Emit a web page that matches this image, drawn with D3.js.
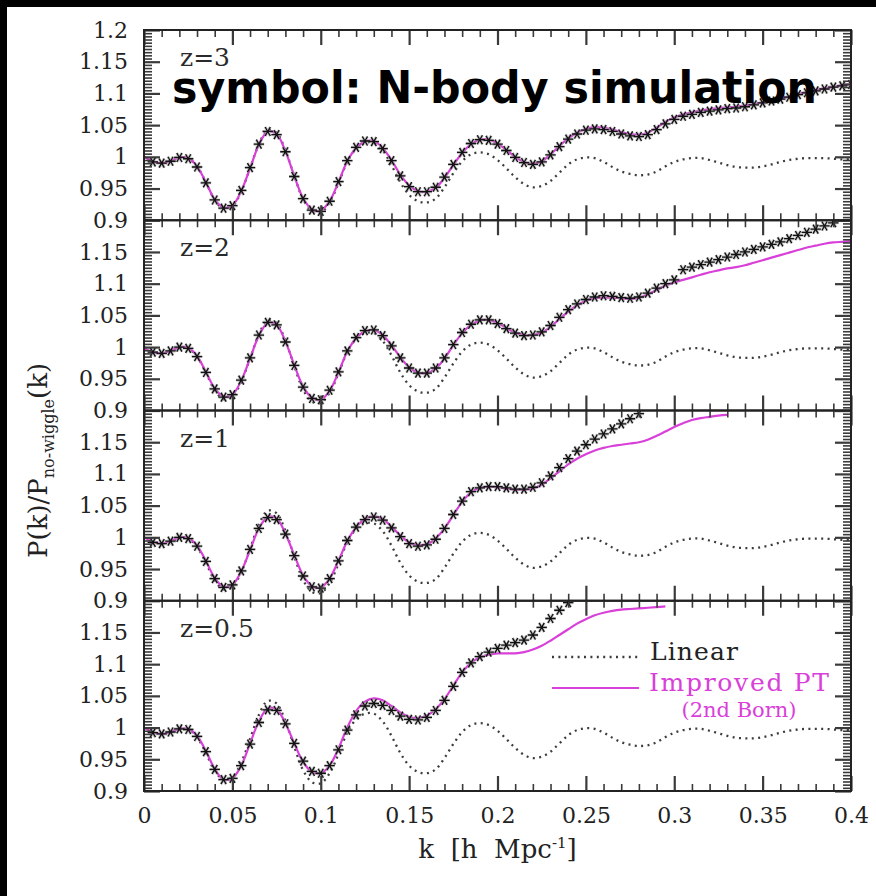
<!DOCTYPE html>
<html><head><meta charset="utf-8">
<script src="https://cdn.jsdelivr.net/npm/d3@7"></script>
<style>
html,body{margin:0;padding:0;background:#fff;}
svg{display:block;}
</style></head>
<body>
<svg id="chart" width="876" height="896"></svg>
<script>
// ---------------- DATA ----------------
const panelLabels = ["z=3", "z=2", "z=1", "z=0.5"];
const xTickValues = [0, 0.05, 0.1, 0.15, 0.2, 0.25, 0.3, 0.35, 0.4];
const xTickLabels = ["0", "0.05", "0.1", "0.15", "0.2", "0.25", "0.3", "0.35", "0.4"];
const yTickValues = [0.9, 0.95, 1, 1.05, 1.1, 1.15, 1.2];
const yTickLabels = ["0.9", "0.95", "1", "1.05", "1.1", "1.15", "1.2"];

// k grid of the theory curves
const kLine = [0,0.005,0.01,0.015,0.02,0.025,0.03,0.035,0.04,0.045,0.05,0.055,0.06,0.065,0.07,0.075,0.08,0.085,0.09,0.095,
0.1,0.105,0.11,0.115,0.12,0.125,0.13,0.135,0.14,0.145,0.15,0.155,0.16,0.165,0.17,0.175,0.18,0.185,0.19,0.195,
0.2,0.205,0.21,0.215,0.22,0.225,0.23,0.235,0.24,0.245,0.25,0.255,0.26,0.265,0.27,0.275,0.28,0.285,0.29,0.295,
0.3,0.305,0.31,0.315,0.32,0.325,0.33,0.335,0.34,0.345,0.35,0.355,0.36,0.365,0.37,0.375,0.38,0.385,0.39,0.395,0.4];

// Linear theory (same in every panel)
const linear = [1.000,0.993,0.990,0.993,0.999,0.998,0.985,0.960,0.932,0.918,0.922,0.945,0.982,1.020,1.042,1.038,1.010,0.970,0.933,0.914,
0.912,0.928,0.958,0.992,1.013,1.022,1.022,1.010,0.987,0.960,0.940,0.930,0.928,0.934,0.952,0.974,0.993,1.004,1.007,1.004,
0.995,0.982,0.968,0.957,0.952,0.954,0.962,0.975,0.988,0.996,0.999,0.998,0.992,0.984,0.977,0.973,0.971,0.972,0.977,0.985,
0.992,0.996,0.998,0.998,0.995,0.991,0.987,0.984,0.983,0.983,0.985,0.988,0.992,0.995,0.997,0.998,0.998,0.998,0.997,0.996,0.996];

// Improved PT (2nd Born), one array per panel
const ptZ3 = [1.000,0.993,0.990,0.993,0.999,0.998,0.985,0.960,0.933,0.920,0.923,0.946,0.982,1.019,1.040,1.036,1.009,0.970,0.935,0.917,
0.915,0.930,0.960,0.993,1.014,1.024,1.025,1.014,0.995,0.972,0.955,0.946,0.945,0.951,0.967,0.987,1.006,1.020,1.027,1.027,
1.021,1.011,1.000,0.992,0.989,0.993,1.004,1.017,1.029,1.038,1.044,1.047,1.046,1.043,1.039,1.036,1.035,1.038,1.046,1.055,
1.062,1.067,1.070,1.073,1.075,1.077,1.078,1.079,1.081,1.083,1.086,1.089,1.092,1.095,1.099,1.102,1.105,1.108,1.110,1.113,1.115];
const ptZ2 = [0.998,0.992,0.990,0.994,1.000,0.999,0.986,0.961,0.935,0.922,0.925,0.947,0.982,1.018,1.038,1.035,1.009,0.972,0.938,0.920,
0.917,0.931,0.960,0.993,1.014,1.025,1.027,1.019,1.003,0.984,0.968,0.960,0.959,0.966,0.982,1.003,1.022,1.035,1.042,1.043,
1.038,1.030,1.023,1.019,1.019,1.023,1.032,1.044,1.056,1.066,1.073,1.077,1.078,1.078,1.077,1.076,1.078,1.083,1.090,1.097,
1.102,1.106,1.110,1.114,1.118,1.121,1.124,1.126,1.129,1.133,1.137,1.141,1.145,1.149,1.153,1.157,1.160,1.163,1.165,1.166,1.167];
const ptZ1 = [1.000,0.993,0.990,0.994,1.000,0.999,0.987,0.963,0.936,0.922,0.925,0.946,0.980,1.014,1.032,1.030,1.006,0.972,0.940,0.923,
0.921,0.935,0.963,0.994,1.016,1.029,1.033,1.029,1.017,1.003,0.992,0.988,0.989,0.998,1.014,1.035,1.056,1.071,1.078,1.080,
1.079,1.077,1.075,1.075,1.077,1.083,1.093,1.104,1.115,1.124,1.131,1.137,1.141,1.144,1.146,1.148,1.150,1.154,1.160,1.167,
1.174,1.180,1.185,1.188,1.190,1.192,1.193];
const ptZ05 = [1.000,0.993,0.990,0.993,0.998,0.998,0.987,0.963,0.935,0.918,0.920,0.940,0.975,1.010,1.030,1.029,1.007,0.975,0.946,0.930,
0.928,0.940,0.967,1.000,1.026,1.041,1.046,1.043,1.034,1.024,1.017,1.015,1.019,1.029,1.045,1.066,1.087,1.102,1.111,1.115,
1.117,1.117,1.117,1.119,1.123,1.129,1.137,1.146,1.155,1.164,1.171,1.177,1.181,1.184,1.186,1.187,1.188,1.189,1.190,1.191];

// N-body simulation points
const kSim = [0.005,0.01,0.015,0.02,0.025,0.03,0.035,0.04,0.045,0.05,0.055,0.06,0.065,0.07,0.075,0.08,0.085,0.09,0.095,
0.1,0.105,0.11,0.115,0.12,0.125,0.13,0.135,0.14,0.145,0.15,0.155,0.16,0.165,0.17,0.175,0.18,0.185,0.19,0.195,
0.2,0.205,0.21,0.215,0.22,0.225,0.23,0.235,0.24,0.245,0.25,0.255,0.26,0.265,0.27,0.275,0.28,0.285,0.29,0.295,
0.3,0.305,0.31,0.315,0.32,0.325,0.33,0.335,0.34,0.345,0.35,0.355,0.36,0.365,0.37,0.375,0.38,0.385,0.39,0.395,0.4];
const simZ3 = [0.992,0.990,0.993,0.999,0.997,0.984,0.959,0.932,0.919,0.923,0.947,0.983,1.020,1.040,1.035,1.008,0.969,0.934,0.916,
0.914,0.930,0.961,0.994,1.015,1.025,1.024,1.013,0.994,0.970,0.953,0.945,0.945,0.952,0.968,0.988,1.007,1.021,1.027,1.026,
1.020,1.010,0.999,0.991,0.988,0.992,1.003,1.016,1.028,1.036,1.042,1.044,1.043,1.040,1.036,1.033,1.032,1.035,1.043,1.052,
1.059,1.064,1.067,1.070,1.072,1.074,1.076,1.077,1.079,1.082,1.085,1.088,1.091,1.094,1.098,1.101,1.104,1.107,1.110,1.112,1.114];
const simZ2 = [0.992,0.990,0.994,1.000,0.998,0.985,0.960,0.934,0.921,0.925,0.948,0.983,1.019,1.039,1.035,1.008,0.971,0.937,0.919,
0.917,0.932,0.961,0.994,1.015,1.026,1.027,1.018,1.002,0.983,0.967,0.959,0.959,0.967,0.983,1.004,1.023,1.036,1.043,1.043,
1.037,1.029,1.022,1.018,1.019,1.024,1.034,1.047,1.059,1.068,1.075,1.079,1.081,1.080,1.078,1.077,1.079,1.085,1.093,1.100,
1.106,1.122,1.126,1.130,1.134,1.138,1.142,1.146,1.150,1.154,1.158,1.162,1.166,1.171,1.176,1.181,1.186,1.191,1.196];
const simZ1 = [0.992,0.990,0.994,1.000,0.998,0.986,0.962,0.935,0.921,0.925,0.947,0.981,1.014,1.031,1.028,1.005,0.971,0.939,0.922,
0.920,0.935,0.963,0.995,1.016,1.028,1.032,1.027,1.015,1.001,0.990,0.986,0.988,0.997,1.014,1.036,1.057,1.072,1.078,1.080,
1.080,1.078,1.076,1.076,1.079,1.086,1.097,1.110,1.124,1.136,1.146,1.155,1.163,1.171,1.179,1.187,1.195];
const simZ05 = [0.992,0.990,0.993,0.998,0.997,0.986,0.962,0.934,0.918,0.920,0.940,0.974,1.008,1.028,1.027,1.006,0.975,0.947,0.931,
0.928,0.940,0.965,0.996,1.020,1.034,1.038,1.035,1.027,1.018,1.013,1.012,1.016,1.027,1.043,1.065,1.087,1.102,1.112,1.119,
1.125,1.130,1.134,1.138,1.146,1.158,1.172,1.185,1.197];

const ptSeries = [ptZ3, ptZ2, ptZ1, ptZ05];
const simSeries = [simZ3, simZ2, simZ1, simZ05];

// ---------------- LAYOUT ----------------
const W = 876, H = 896;
const L = 144, R = 851, T = 30, B = 791;
const PH = (B - T) / 4;
const serif = "'DejaVu Serif', serif";
const magenta = "#d93fd9";
const frameCol = "#222";
const tickCol = "#3a3a3a";

const svg = d3.select("#chart");
svg.append("rect").attr("width", W).attr("height", H).attr("fill", "#fff");
svg.append("rect").attr("x", 0).attr("y", 0).attr("width", W).attr("height", 7).attr("fill", "#000");
svg.append("rect").attr("x", 0).attr("y", 0).attr("width", 7).attr("height", H).attr("fill", "#000");

const x = d3.scaleLinear().domain([0, 0.4]).range([L, R]);
const xMinor = d3.range(0.01, 0.4, 0.01).filter(v => Math.abs(v / 0.05 - Math.round(v / 0.05)) > 1e-6);
const yMinor = d3.range(0.905, 1.2, 0.005).filter(v => Math.abs(v / 0.05 - Math.round(v / 0.05)) > 1e-6);

const defs = svg.append("defs");

function styleAxis(g, w) {
  g.select(".domain").remove();
  g.selectAll(".tick line").attr("stroke", tickCol).attr("stroke-width", w);
  g.selectAll("text").attr("fill", "#222").attr("font-family", serif).attr("font-size", 22);
}

// asterisk marker path
function starPath(r) {
  let p = "";
  [0, 60, 120].forEach(a => {
    const t = a * Math.PI / 180, dx = r * Math.cos(t), dy = r * Math.sin(t);
    p += `M${-dx},${-dy}L${dx},${dy}`;
  });
  return p;
}
const star = starPath(5.2);

for (let i = 0; i < 4; i++) {
  const top = T + i * PH, bot = T + (i + 1) * PH;
  const y = d3.scaleLinear().domain([0.9, 1.2]).range([bot, top]);
  const g = svg.append("g");

  const clipId = "clip" + i;
  defs.append("clipPath").attr("id", clipId).append("rect")
    .attr("x", L).attr("y", top).attr("width", R - L).attr("height", PH);
  const plot = g.append("g").attr("clip-path", `url(#${clipId})`);

  // linear (dotted)
  const lineGen = d3.line().defined(d => d[1] != null).x(d => x(d[0])).y(d => y(d[1])).curve(d3.curveCatmullRom);
  plot.append("path").datum(kLine.map((k, j) => [k, linear[j]]))
    .attr("d", lineGen).attr("fill", "none").attr("stroke", "#3c3c3c")
    .attr("stroke-width", 2.3).attr("stroke-dasharray", "2,4.4").attr("stroke-linecap", "butt");

  // N-body markers
  const sims = simSeries[i].map((v, j) => [kSim[j], v]);
  const mk = plot.append("g");
  mk.selectAll("path.halo").data(sims).join("path").attr("class", "halo")
    .attr("transform", d => `translate(${x(d[0])},${y(d[1])})`)
    .attr("d", star).attr("stroke", "#999").attr("stroke-width", 3).attr("stroke-opacity", 0.55).attr("fill", "none");

  // improved PT (magenta)
  plot.append("path").datum(ptSeries[i].map((v, j) => [kLine[j], v]))
    .attr("d", lineGen).attr("fill", "none").attr("stroke", magenta).attr("stroke-width", 2.2);

  mk.selectAll("path.core").data(sims).join("path").attr("class", "core")
    .attr("transform", d => `translate(${x(d[0])},${y(d[1])})`)
    .attr("d", star).attr("stroke", "#111").attr("stroke-width", 1.3).attr("fill", "none");
  mk.raise();

  // axes: bottom
  const bMaj = g.append("g").attr("transform", `translate(0,${bot})`)
    .call(d3.axisBottom(x).tickValues(xTickValues).tickSize(-15).tickSizeOuter(0).tickPadding(16)
      .tickFormat((d, j) => i === 3 ? xTickLabels[j] : ""));
  styleAxis(bMaj, 2.2);
  const bMin = g.append("g").attr("transform", `translate(0,${bot})`)
    .call(d3.axisBottom(x).tickValues(xMinor).tickSize(-7).tickSizeOuter(0).tickFormat(""));
  styleAxis(bMin, 1.6);
  // top
  const tMaj = g.append("g").attr("transform", `translate(0,${top})`)
    .call(d3.axisTop(x).tickValues(xTickValues).tickSize(-15).tickSizeOuter(0).tickFormat(""));
  styleAxis(tMaj, 2.2);
  const tMin = g.append("g").attr("transform", `translate(0,${top})`)
    .call(d3.axisTop(x).tickValues(xMinor).tickSize(-7).tickSizeOuter(0).tickFormat(""));
  styleAxis(tMin, 1.6);
  // left
  const yVals = i === 0 ? yTickValues : yTickValues.slice(0, -1);
  const lMaj = g.append("g").attr("transform", `translate(${L},0)`)
    .call(d3.axisLeft(y).tickValues(yVals).tickSize(-16).tickSizeOuter(0).tickPadding(16)
      .tickFormat(d => yTickLabels[yTickValues.indexOf(d)]));
  styleAxis(lMaj, 2.2);
  const lMin = g.append("g").attr("transform", `translate(${L},0)`)
    .call(d3.axisLeft(y).tickValues(yMinor).tickSize(-8).tickSizeOuter(0).tickFormat(""));
  styleAxis(lMin, 1.6);
  // right
  const rMaj = g.append("g").attr("transform", `translate(${R},0)`)
    .call(d3.axisRight(y).tickValues(yTickValues).tickSize(-16).tickSizeOuter(0).tickFormat(""));
  styleAxis(rMaj, 2.2);
  const rMin = g.append("g").attr("transform", `translate(${R},0)`)
    .call(d3.axisRight(y).tickValues(yMinor).tickSize(-8).tickSizeOuter(0).tickFormat(""));
  styleAxis(rMin, 1.6);

  // frame
  g.append("rect").attr("x", L).attr("y", top).attr("width", R - L).attr("height", PH)
    .attr("fill", "none").attr("stroke", frameCol).attr("stroke-width", 2);

  // panel label
  g.append("text").attr("x", 180).attr("y", top + 36)
    .attr("font-family", serif).attr("font-size", 25).attr("fill", "#2a2a2a")
    .text(panelLabels[i]);
}

// legend (bottom panel)
svg.append("line").attr("x1", 552).attr("x2", 639).attr("y1", 657).attr("y2", 657)
  .attr("stroke", "#3c3c3c").attr("stroke-width", 2.3).attr("stroke-dasharray", "2,4.4");
svg.append("text").attr("x", 650).attr("y", 660).attr("font-family", serif).attr("font-size", 25)
  .attr("fill", "#222").attr("textLength", 88).text("Linear");
svg.append("line").attr("x1", 552).attr("x2", 639).attr("y1", 688).attr("y2", 688)
  .attr("stroke", magenta).attr("stroke-width", 2.2);
svg.append("text").attr("x", 649).attr("y", 691).attr("font-family", serif).attr("font-size", 25)
  .attr("fill", magenta).attr("textLength", 180).text("Improved PT");
svg.append("text").attr("x", 739).attr("y", 717).attr("text-anchor", "middle").attr("font-family", serif).attr("font-size", 21)
  .attr("fill", magenta).text("(2nd Born)");

// x-axis title
const xt = svg.append("text").attr("x", (L + R) / 2).attr("y", 858).attr("text-anchor", "middle")
  .attr("font-family", serif).attr("font-size", 26).attr("fill", "#222").style("white-space", "pre");
xt.append("tspan").text("k  [h  Mpc");
xt.append("tspan").attr("font-size", 15).attr("dy", -10).text("-1");
xt.append("tspan").attr("dy", 10).text("]");

// y-axis title
const yt = svg.append("text").attr("transform", "translate(47,558) rotate(-90)")
  .attr("font-family", serif).attr("font-size", 26).attr("fill", "#222");
yt.append("tspan").text("P(k)/P");
yt.append("tspan").attr("font-size", 16).attr("dy", 7).text("no-wiggle");
yt.append("tspan").attr("dy", -7).text("(k)");

// overlay annotation
svg.append("text").attr("x", 172).attr("y", 103)
  .attr("font-family", "'DejaVu Sans', sans-serif").attr("font-weight", "bold").attr("font-size", 45)
  .attr("fill", "#000").attr("textLength", 645).attr("lengthAdjust", "spacingAndGlyphs")
  .text("symbol: N-body simulation");
</script>
</body></html>
